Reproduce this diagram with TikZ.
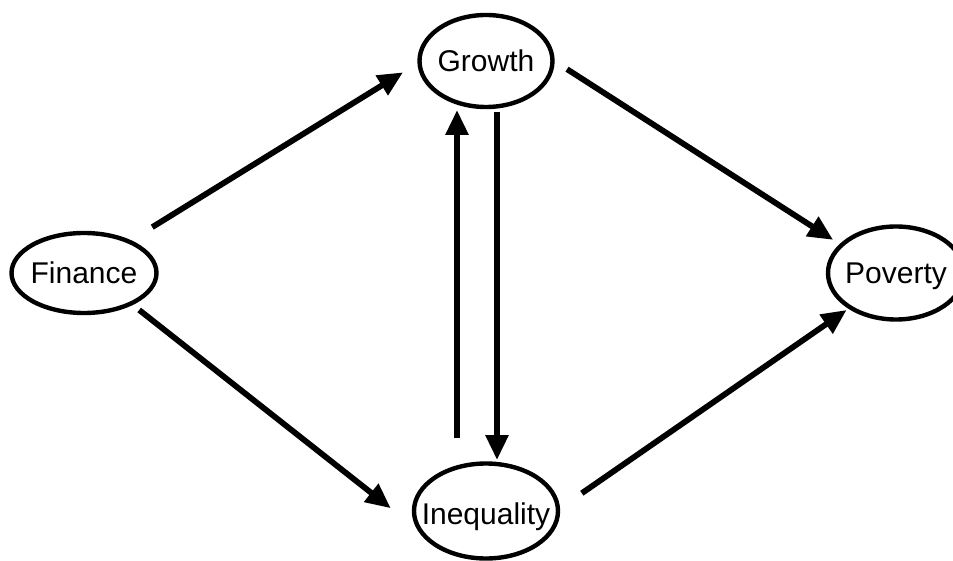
\documentclass[tikz,border=0pt]{standalone}
\usepackage{fontspec}
\setmainfont{Liberation Sans}
\usetikzlibrary{shapes.geometric, arrows.meta}

\begin{document}
\begin{tikzpicture}[
    x=0.5pt, y=-0.5pt,
    var/.style={draw, ellipse, line width=2.2pt, inner sep=0pt, outer sep=0pt, text depth=0pt, font=\fontsize{15}{18}\selectfont},
    arrow/.style={-{Triangle[length=12.5pt, width=11pt]}, line width=2.9pt}
]
    \useasboundingbox (0,0) rectangle (953,561);

    % Variables
    \node[var, minimum width=72.5pt, minimum height=40pt] (fin) at (84,273) {\makebox[0pt]{Finance}};
    \node[var, minimum width=66.5pt, minimum height=46pt] (gro) at (486,61) {\makebox[0pt]{Growth}};
    \node[var, minimum width=72pt, minimum height=47.5pt] (ineq) at (486,511) {\makebox[0pt]{\raisebox{-3pt}{Inequality}}};
    \node[var, minimum width=68pt, minimum height=46.5pt] (pov) at (896,273) {\makebox[0pt]{Poverty}};

    % Finance channels
    \draw[arrow, shorten <=13.75pt, shorten >=9.7pt] (fin.35) -- (gro.181);
    \draw[arrow, shorten <=5.25pt, shorten >=20pt] (fin.327) -- (ineq.199);

    % Growth <-> Inequality
    \draw[arrow, shorten <=12.75pt, shorten >=1.5pt] ([xshift=-14.5pt]ineq.north) -- ([xshift=-14.5pt]gro.south);
    \draw[arrow, shorten <=2.5pt, shorten >=1.75pt] ([xshift=5.5pt]gro.south) -- ([xshift=5.5pt]ineq.north);

    % Effects on poverty
    \draw[arrow, shorten <=8.65pt, shorten >=4.95pt] (gro.1) -- (pov.153);
    \draw[arrow, shorten <=14.5pt, shorten >=2.25pt] (ineq.1) -- (pov.217);

\end{tikzpicture}
\end{document}
